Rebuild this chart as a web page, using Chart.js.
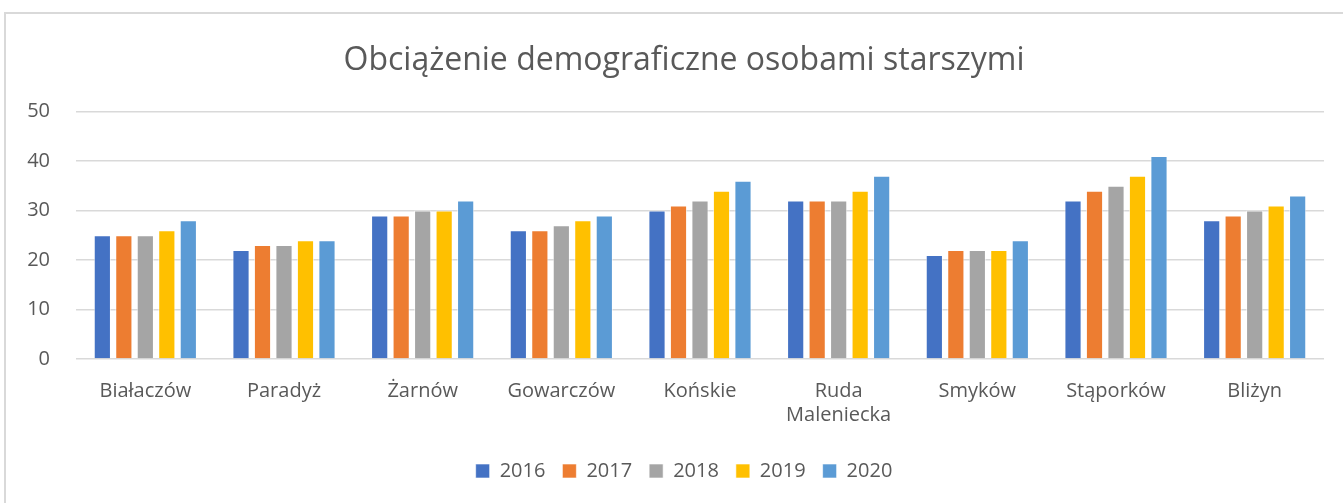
<!DOCTYPE html>
<html>
<head>
<meta charset="utf-8">
<script src="https://cdn.jsdelivr.net/npm/chart.js@4"></script>
<style>
  html, body { margin: 0; padding: 0; background: #fff; overflow: hidden; }
  .frame { position: absolute; left: 4px; top: 12px; width: 1345px; height: 500px; border: 2px solid #d9d9d9; box-sizing: border-box; }
  canvas { position: absolute; left: 0; top: 0; }
</style>
</head>
<body>
<div class="frame"></div>
<canvas id="chart" width="1343" height="503"></canvas>
<script>
const categories = ['Białaczów', 'Paradyż', 'Żarnów', 'Gowarczów', 'Końskie', ['Ruda', 'Maleniecka'], 'Smyków', 'Stąporków', 'Bliżyn'];
const years = ['2016', '2017', '2018', '2019', '2020'];
const colors = ['#4472c4', '#ed7d31', '#a5a5a5', '#ffc000', '#5b9bd5'];

const v2016 = [25, 22, 29, 26, 30, 32, 21, 32, 28];
const v2017 = [25, 23, 29, 26, 31, 32, 22, 34, 29];
const v2018 = [25, 23, 30, 27, 32, 32, 22, 35, 30];
const v2019 = [26, 24, 30, 28, 34, 34, 22, 37, 31];
const v2020 = [28, 24, 32, 29, 36, 37, 24, 41, 33];
const series = [v2016, v2017, v2018, v2019, v2020];

const yTicks = [0, 10, 20, 30, 40, 50];

const textColor = '#595959';
const fontFamily = '"Open Sans", "Liberation Sans", sans-serif';

// title and legend sit a bit right of the canvas centre in the original
const shiftBoxes = {
  id: 'shiftBoxes',
  afterLayout(chart) {
    [chart.titleBlock, chart.legend].forEach(b => {
      if (b) { b.left += 20; b.right += 20; }
    });
  },
};

const ctx = document.getElementById('chart').getContext('2d');
new Chart(ctx, {
  type: 'bar',
  data: {
    labels: categories,
    datasets: series.map((vals, i) => ({
      label: years[i],
      data: vals,
      backgroundColor: colors[i],
      borderColor: 'rgba(255,255,255,0.6)',
      borderWidth: 1,
      barPercentage: 0.8,
      categoryPercentage: 0.775,
    })),
  },
  options: {
    responsive: false,
    animation: false,
    layout: { padding: { left: 4, right: 19, top: 6, bottom: 12 } },
    scales: {
      x: {
        grid: { display: false, drawTicks: false },
        border: { display: false },
        afterFit: (axis) => { axis.height -= 3; },
        ticks: {
          color: textColor,
          font: { family: fontFamily, size: 20 },
          padding: 20,
          maxRotation: 0,
        },
      },
      y: {
        min: 0,
        max: 50,
        afterBuildTicks: (axis) => { axis.ticks = yTicks.map(v => ({ value: v })); },
        afterFit: (axis) => { axis.width = 72; },
        grid: { color: '#d9d9d9', lineWidth: 1.5, drawTicks: false },
        border: { display: false },
        ticks: {
          color: textColor,
          font: { family: fontFamily, size: 20 },
          padding: 26,
        },
      },
    },
    plugins: {
      title: {
        display: true,
        text: 'Obciążenie demograficzne osobami starszymi',
        color: textColor,
        font: { family: fontFamily, size: 32, weight: 'normal' },
        padding: { top: 36, bottom: 31 },
      },
      legend: {
        position: 'bottom',
        labels: {
          color: textColor,
          font: { family: fontFamily, size: 20 },
          boxWidth: 14,
          boxHeight: 14,
          padding: 17,
        },
      },
      tooltip: { enabled: false },
    },
  },
  plugins: [shiftBoxes],
});
</script>
</body>
</html>
